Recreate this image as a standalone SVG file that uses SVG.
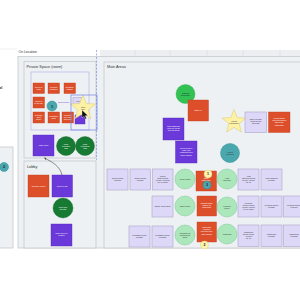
<svg xmlns="http://www.w3.org/2000/svg" width="300" height="300" viewBox="0 0 300 300">
<defs>
<style>
text{font-family:"Liberation Sans",Arial,sans-serif}
.frame{fill:#eef1f4;stroke:#c6c9ce;stroke-width:0.8}
.title{font-size:3.8px;fill:#333}
.or{fill:#dd4f2a;stroke:#c2401f;stroke-width:0.4}
.pu{fill:#6b38d9;stroke:#5628b8;stroke-width:0.4}
.dg{fill:#177a33;stroke:#0f6428;stroke-width:0.4}
.bg{fill:#33c153;stroke:#22a843;stroke-width:0.4}
.lg{fill:#abe7bb;stroke:#7fc594;stroke-width:0.5}
.lv{fill:#ddd8f8;stroke:#aaa4c8;stroke-width:0.6}
.tl{fill:#4ba7ae;stroke:#2f8c93;stroke-width:0.5}
.st{fill:#fdf1a6;stroke:#d8c66c;stroke-width:0.5}
.yb{fill:#fdf3ac;stroke:#d9c778;stroke-width:0.4}
.w{font-size:1.9px;fill:#fff;text-anchor:middle}
.d{font-size:1.9px;fill:#333;text-anchor:middle}
.n{font-size:4px;fill:#222;text-anchor:middle;font-weight:bold}
</style>
<marker id="ah" viewBox="0 0 6 6" refX="5" refY="3" markerWidth="4" markerHeight="4" orient="auto"><path d="M0,0 L6,3 L0,6 z" fill="#444"/></marker>
</defs>
<rect width="300" height="300" fill="#ffffff"/>
<!-- header band -->
<rect x="100" y="50" width="200" height="6.5" fill="#eceef1"/>
<g stroke="#d9dce0" stroke-width="0.6"><line x1="135" y1="50" x2="135" y2="56.5"/><line x1="170" y1="50" x2="170" y2="56.5"/><line x1="207" y1="50" x2="207" y2="56.5"/><line x1="243" y1="50" x2="243" y2="56.5"/><line x1="280" y1="50" x2="280" y2="56.5"/></g>
<line x1="0" y1="49" x2="17" y2="49" stroke="#e2e4e7" stroke-width="0.6"/>
<!-- frames -->
<g id="left-frame"><rect class="frame" x="-6" y="147" width="19" height="101"/><text x="-1" y="89" font-size="4" font-weight="bold" fill="#333">al</text></g>
<g id="on-location"><rect class="frame" x="18" y="56.5" width="290" height="191.5"/><text class="title" x="18.5" y="52.5" style="font-size:3.4px">On Location</text></g>
<g id="private-space"><rect class="frame" x="24" y="61.5" width="72" height="96.5"/><text class="title" x="26.5" y="67.5">Private Space (room)</text>
<rect x="31" y="72" width="58" height="58" fill="none" stroke="#b9b4e8" stroke-width="0.7"/></g>
<g id="lobby"><rect class="frame" x="24" y="161" width="72" height="87"/><text class="title" x="27" y="167.5">Lobby</text></g>
<g id="main-areas"><rect class="frame" x="104" y="62" width="204" height="186"/><text class="title" x="107" y="68">Main Areas</text></g>
<line x1="96.5" y1="50" x2="96.5" y2="160" stroke="#6b82e6" stroke-width="0.6" stroke-dasharray="2,1.5"/>

<!-- private space nodes -->
<g id="p1"><rect class="or" x="33" y="83" width="11.5" height="10.5"/><text class="w" x="38.7" y="87.5">set up of<tspan x="38.7" dy="2.2">room</tspan></text></g>
<g id="p2"><rect class="or" x="48" y="83" width="11.5" height="10.5"/><text class="w" x="53.7" y="87.5">personal<tspan x="53.7" dy="2.2">notebook</tspan></text></g>
<g id="p3"><rect class="or" x="64" y="83" width="11.5" height="10.5"/><text class="w" x="69.7" y="87.5">breathing<tspan x="69.7" dy="2.2">session</tspan></text></g>
<g id="p4"><rect class="or" x="33" y="97" width="11.5" height="11"/><text class="w" x="38.7" y="101.5">check-in<tspan x="38.7" dy="2.2">on the day</tspan></text></g>
<g id="p5"><rect class="or" x="33" y="112" width="11.5" height="11"/><text class="w" x="38.7" y="116">personal<tspan x="38.7" dy="2.2">quiet</tspan><tspan x="38.7" dy="2.2">space</tspan></text></g>
<g id="p6"><rect class="or" x="48" y="112" width="11.5" height="11"/><text class="w" x="53.7" y="117">meditation<tspan x="53.7" dy="2.2">guide</tspan></text></g>
<g id="p7"><rect class="or" x="62" y="112" width="11.5" height="11"/><text class="w" x="67.7" y="116">a room to<tspan x="67.7" dy="2.2">feel calm</tspan><tspan x="67.7" dy="2.2">and relax</tspan></text></g>
<g id="p-lav"><rect class="lv" x="73" y="97.5" width="9.5" height="8"/><text class="d" x="77.7" y="101.5">Help</text></g>
<g id="p-viol"><rect class="pu" x="75" y="115" width="10" height="9"/></g>
<g id="badge1"><circle class="tl" cx="52" cy="106" r="5"/><text class="n" x="52" y="107.5">1</text></g>
<text x="58" y="102.5" font-size="1.9" fill="#6b38d9">shared space</text>
<g id="p-star"><polygon class="st" points="83,95 86.3,103.5 95.5,104 88.4,109.8 90.8,118.6 83,113.6 75.2,118.6 77.6,109.8 70.5,104 79.7,103.5"/><text class="d" x="83" y="108">quiet</text><text class="d" x="83" y="110.2">time</text></g>
<rect x="71" y="95" width="26" height="35" fill="none" stroke="#6b82e6" stroke-width="0.7"/>
<path d="M82,110 L82,118 L84,116.2 L85.4,119 L86.6,118.4 L85.2,115.7 L87.8,115.5 z" fill="#111" stroke="#fff" stroke-width="0.3"/>
<g id="p-purple"><rect class="pu" x="33" y="135" width="21" height="21"/><text class="w" x="43.5" y="146">lodge room</text></g>
<g id="p-dg1"><circle class="dg" cx="66" cy="146" r="9.5"/><text class="w" x="66" y="145">lodge<tspan x="66" dy="2.2">relaxation</tspan><tspan x="66" dy="2.2">staff</tspan></text></g>
<g id="p-dg2"><circle class="dg" cx="85" cy="146" r="9.5"/><text class="w" x="85" y="145">lodge<tspan x="85" dy="2.2">operations</tspan><tspan x="85" dy="2.2">staff</tspan></text></g>

<!-- lobby nodes -->
<g id="l-or"><rect class="or" x="28" y="175" width="21" height="22"/><text class="w" x="38.5" y="186.5">welcome pocket</text></g>
<g id="l-pu"><rect class="pu" x="52" y="175" width="20.5" height="22"/><text class="w" x="62.2" y="186.5">check-in app</text></g>
<g id="l-dg"><circle class="dg" cx="63" cy="208" r="10"/><text class="w" x="63" y="207.5">front desk<tspan x="63" dy="2.2">operator</tspan></text></g>
<g id="l-pu2"><rect class="pu" x="51" y="224" width="21" height="22"/><text class="w" x="61.5" y="234">lodge check-in<tspan x="61.5" dy="2.2">system</tspan></text></g>

<!-- main areas top -->
<g id="m-green"><circle class="bg" cx="185.5" cy="94" r="9.5"/><text class="d" x="185.5" y="93.5" style="fill:#123">planning<tspan x="185.5" dy="2.2">opportunity</tspan></text></g>
<g id="m-or1"><rect class="or" x="188" y="100" width="20.5" height="21"/><text class="w" x="198" y="111">Stage in</text></g>
<g id="m-pu1"><rect class="pu" x="163" y="118" width="21" height="22"/><text class="w" x="173.5" y="127">team gathering<tspan x="173.5" dy="2.2">room for meals</tspan><tspan x="173.5" dy="2.2">and meetings</tspan></text></g>
<g id="m-pu2"><rect class="pu" x="175.5" y="141" width="21.5" height="22"/><text class="w" x="186.2" y="149">social round in<tspan x="186.2" dy="2.2">lodge and</tspan><tspan x="186.2" dy="2.2">restaurant area</tspan><tspan x="186.2" dy="2.2">public garden</tspan></text></g>
<g id="m-star"><polygon class="st" points="234,109.5 237.2,117.6 245.9,118.1 239.2,123.7 241.4,132.1 234,127.4 226.6,132.1 228.8,123.7 222.1,118.1 230.8,117.6"/><text class="d" x="234" y="122">retreat</text><text class="d" x="234" y="124.2">information</text></g>
<g id="m-lv1"><rect class="lv" x="245" y="112" width="21.5" height="20.5"/><text class="d" x="255.7" y="120">Other retreats<tspan x="255.7" dy="2.2">social media</tspan><tspan x="255.7" dy="2.2">accounts</tspan></text></g>
<g id="m-or2"><rect class="or" x="268.5" y="112" width="21.5" height="20.5"/><text class="w" x="279.2" y="119">current studio<tspan x="279.2" dy="2.2">account showing</tspan><tspan x="279.2" dy="2.2">data of the</tspan><tspan x="279.2" dy="2.2">instructors</tspan></text></g>
<g id="m-teal"><circle class="tl" cx="230" cy="153" r="9.5"/><text class="d" x="230" y="152.5">retreat<tspan x="230" dy="2.2">organiser</tspan></text></g>

<!-- row A -->
<g id="a1"><rect class="lv" x="107" y="169" width="21" height="21"/><text class="d" x="117.5" y="179">Ocean Coach<tspan x="117.5" dy="2.2">LinkedIn</tspan></text></g>
<g id="a2"><rect class="lv" x="130" y="169" width="20.5" height="21"/><text class="d" x="140.2" y="179">Ocean Coach<tspan x="140.2" dy="2.2">Website</tspan></text></g>
<g id="a3"><rect class="lv" x="152.5" y="169" width="20.5" height="21"/><text class="d" x="162.7" y="176.5">Ocean<tspan x="162.7" dy="2.2">Coach Social</tspan><tspan x="162.7" dy="2.2">Media Accounts</tspan><tspan x="162.7" dy="2.2">(fb, ig, tiktok)</tspan></text></g>
<g id="a4"><circle class="lg" cx="185" cy="179" r="10"/><text class="d" x="185" y="179.7">ocean coach</text></g>
<g id="a5"><rect class="or" x="196" y="171" width="20.5" height="20"/><text class="w" x="206.2" y="179">Stage</text><text class="w" x="206.2" y="181.2">instructors</text></g>
<g id="a6"><circle class="lg" cx="227" cy="179" r="10"/><text class="d" x="227" y="178.5">yoga<tspan x="227" dy="2.2">instructor</tspan></text></g>
<g id="a7"><rect class="lv" x="238" y="169" width="21" height="21"/><text class="d" x="248.5" y="176.5">Yoga<tspan x="248.5" dy="2.2">Instructor Social</tspan><tspan x="248.5" dy="2.2">Media Account</tspan><tspan x="248.5" dy="2.2">(fb, ig)</tspan></text></g>
<g id="a8"><rect class="lv" x="261" y="169" width="21" height="21"/><text class="d" x="271.5" y="179">Yoga Instructor<tspan x="271.5" dy="2.2">Website</tspan></text></g>

<!-- row B -->
<g id="b1"><rect class="lv" x="152" y="196" width="21" height="21"/><text class="d" x="162.5" y="207">Nature Guide Blog</text></g>
<g id="b2"><circle class="lg" cx="185" cy="206" r="10"/><text class="d" x="185" y="206.7">nature guide</text></g>
<g id="b3"><rect class="or" x="197" y="196" width="19.5" height="20"/><text class="w" x="206.7" y="203.5">sharing digital<tspan x="206.7" dy="2.2">data of all</tspan><tspan x="206.7" dy="2.2">instructors</tspan></text></g>
<g id="b4"><circle class="lg" cx="227" cy="207" r="10"/><text class="d" x="227" y="206.5">personal<tspan x="227" dy="2.2">trainer</tspan></text></g>
<g id="b5"><rect class="lv" x="238" y="196" width="21" height="21"/><text class="d" x="248.5" y="203.5">Personal<tspan x="248.5" dy="2.2">Trainer Social</tspan><tspan x="248.5" dy="2.2">Media Account</tspan><tspan x="248.5" dy="2.2">(ig, fb, tiktok)</tspan></text></g>
<g id="b6"><rect class="lv" x="261" y="196" width="21" height="21"/><text class="d" x="271.5" y="206">Personal Trainer<tspan x="271.5" dy="2.2">Website</tspan></text></g>
<g id="b7"><rect class="lv" x="283.5" y="196" width="21" height="21"/><text class="d" x="294" y="206">Personal Trainer<tspan x="294" dy="2.2">LinkedIn</tspan></text></g>

<!-- row C -->
<g id="c1"><rect class="lv" x="129" y="226" width="21" height="21"/><text class="d" x="139.5" y="236">Meditation Guide<tspan x="139.5" dy="2.2">Website</tspan></text></g>
<g id="c2"><rect class="lv" x="152" y="226" width="21" height="21"/><text class="d" x="162.5" y="236">Meditation Guide<tspan x="162.5" dy="2.2">Podcast</tspan></text></g>
<g id="c3"><circle class="lg" cx="185" cy="235" r="10"/><text class="d" x="185" y="233.5">meditation &amp;<tspan x="185" dy="2.2">mindfulness</tspan><tspan x="185" dy="2.2">guide</tspan></text></g>
<g id="c4"><rect class="or" x="197" y="222" width="19.5" height="20"/><text class="w" x="206.7" y="228">instructors<tspan x="206.7" dy="2.2">personal</tspan><tspan x="206.7" dy="2.2">reflection time</tspan><tspan x="206.7" dy="2.2">and learning</tspan></text></g>
<g id="c5"><circle class="lg" cx="227" cy="234" r="10"/><text class="d" x="227" y="234.7">nutritionist</text></g>
<g id="c6"><rect class="lv" x="238" y="225" width="21" height="21.5"/><text class="d" x="248.5" y="232.5">Nutritionist<tspan x="248.5" dy="2.2">Social Media</tspan><tspan x="248.5" dy="2.2">Account</tspan><tspan x="248.5" dy="2.2">(fb, ig)</tspan></text></g>
<g id="c7"><rect class="lv" x="261" y="225" width="21" height="21.5"/><text class="d" x="271.5" y="235">Nutritionist<tspan x="271.5" dy="2.2">Website</tspan></text></g>
<g id="c8"><rect class="lv" x="283.5" y="225" width="21" height="21.5"/><text class="d" x="294" y="235">Nutritionist<tspan x="294" dy="2.2">Podcast</tspan></text></g>

<!-- badges -->
<g id="badge-a1"><circle class="yb" cx="208" cy="174" r="4"/><text class="n" x="208" y="175.4" style="font-size:3.6px">1</text></g>
<g id="badge-a3"><circle class="tl" cx="207" cy="185" r="4"/><text class="n" x="207" y="186.4" style="font-size:3.6px">3</text></g>
<g id="badge-c2"><circle class="yb" cx="204.5" cy="245" r="4"/><text class="n" x="204.5" y="246.4" style="font-size:3.6px">2</text></g>
<g id="badge-left2"><circle class="tl" cx="4" cy="167" r="4.5"/><text class="n" x="4" y="168.4" style="font-size:3.8px">2</text></g>

<!-- connectors -->
<g id="connectors"><path d="M62,175 C60,166 52,162 44.5,158" fill="none" stroke="#444" stroke-width="0.6" marker-end="url(#ah)"/></g>
</svg>
